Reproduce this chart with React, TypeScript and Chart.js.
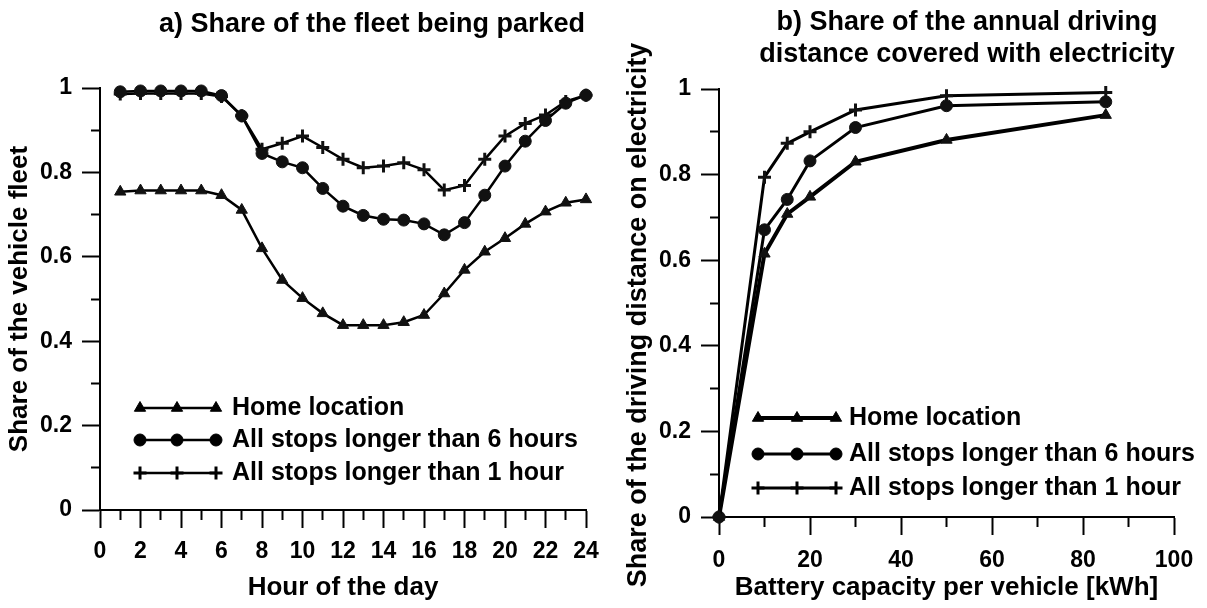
import React, { useEffect, useRef } from 'react';
import { Chart, registerables } from 'chart.js';
import { drawPoint } from 'chart.js/helpers';

Chart.register(...registerables);

const FONT = '"Liberation Sans", Arial, Helvetica, sans-serif';

// ---------- Panel a) data ----------
const hours = [1, 2, 3, 4, 5, 6, 7, 8, 9, 10, 11, 12, 13, 14, 15, 16, 17, 18, 19, 20, 21, 22, 23, 24];
const homeShare = [0.754, 0.757, 0.757, 0.757, 0.757, 0.746, 0.711, 0.62, 0.545, 0.502, 0.466, 0.438, 0.438, 0.438, 0.445, 0.462, 0.513, 0.569, 0.612, 0.644, 0.678, 0.707, 0.728, 0.736];
const stops6hShare = [0.991, 0.993, 0.993, 0.993, 0.993, 0.982, 0.934, 0.845, 0.825, 0.811, 0.762, 0.72, 0.698, 0.689, 0.687, 0.678, 0.652, 0.681, 0.746, 0.815, 0.874, 0.923, 0.964, 0.983];
const stops1hShare = [0.986, 0.987, 0.987, 0.987, 0.987, 0.98, 0.934, 0.855, 0.869, 0.886, 0.859, 0.831, 0.811, 0.815, 0.823, 0.806, 0.758, 0.769, 0.831, 0.886, 0.916, 0.936, 0.968, 0.983];

// ---------- Panel b) data ----------
const capacities = [0, 10, 15, 20, 30, 50, 85];
const homeElec = [0, 0.615, 0.708, 0.748, 0.83, 0.881, 0.939];
const stops6hElec = [0, 0.671, 0.742, 0.832, 0.91, 0.961, 0.97];
const stops1hElec = [0, 0.794, 0.873, 0.9, 0.951, 0.984, 0.992];

// ---------- Texts ----------
const seriesLabels = ['Home location', 'All stops longer than 6 hours', 'All stops longer than 1 hour'];
const titleA = ['a) Share of the fleet being parked'];
const titleB = ['b) Share of the annual driving', 'distance covered with electricity'];
const xTitleA = 'Hour of the day';
const yTitleA = 'Share of the vehicle fleet';
const xTitleB = 'Battery capacity per vehicle [kWh]';
const yTitleB = 'Share of the driving distance on electricity';

const toXY = (xs: number[], ys: number[]) => xs.map((x, i) => ({ x, y: ys[i] }));

const panelTitlePlugin = {
  id: 'panelTitle',
  afterDraw(chart: any, _args: any, opts: any) {
    const ctx = chart.ctx;
    ctx.save();
    ctx.fillStyle = '#000';
    ctx.font = `bold ${opts.size}px ${FONT}`;
    ctx.textAlign = 'center';
    ctx.textBaseline = 'alphabetic';
    (opts.lines as string[]).forEach((line, i) => ctx.fillText(line, opts.x, opts.y + i * opts.gap));
    // vertical axis title
    const yt = opts.yTitle;
    if (yt) {
      ctx.font = `bold ${yt.size}px ${FONT}`;
      ctx.textBaseline = 'middle';
      ctx.translate(yt.x, yt.y);
      ctx.rotate(-Math.PI / 2);
      ctx.fillText(yt.text, 0, 0);
    }
    ctx.restore();
  },
};

const lineLegendPlugin = {
  id: 'lineLegend',
  afterDatasetsDraw(chart: any, _args: any, opts: any) {
    const ctx = chart.ctx;
    chart.data.datasets.forEach((ds: any, i: number) => {
      const y = opts.rows[i];
      const mk: number[] = opts.markers;
      ctx.save();
      ctx.strokeStyle = '#000';
      ctx.fillStyle = '#000';
      ctx.lineWidth = ds.borderWidth;
      ctx.beginPath();
      ctx.moveTo(mk[0], y);
      ctx.lineTo(mk[mk.length - 1], y);
      ctx.stroke();
      ctx.lineWidth = ds.pointBorderWidth;
      mk.forEach((mx) =>
        drawPoint(ctx, { pointStyle: ds.pointStyle, radius: ds.pointRadius, borderWidth: ds.pointBorderWidth, rotation: 0 } as any, mx, y)
      );
      ctx.font = `bold ${opts.size}px ${FONT}`;
      ctx.textAlign = 'left';
      ctx.textBaseline = 'middle';
      ctx.fillText(ds.label, opts.textX, y);
      ctx.restore();
    });
  },
};

Chart.register(panelTitlePlugin as any, lineLegendPlugin as any);

const tickFont = { family: FONT, size: 23, weight: 'bold' as const };

function makeDatasets(xs: number[], series: number[][], widths: number[]) {
  const styles = ['triangle', 'circle', 'cross'];
  const radii = [6.5, 6, 6.5];
  const pbw = [1, 1, 3];
  return series.map((ys, i) => ({
    label: seriesLabels[i],
    data: toXY(xs, ys),
    borderColor: '#000',
    backgroundColor: '#000',
    borderWidth: widths[i],
    pointStyle: styles[i],
    pointRadius: radii[i],
    pointBorderWidth: pbw[i],
    pointBackgroundColor: '#111',
    pointBorderColor: '#111',
    tension: 0,
    clip: false as any,
  }));
}

function yAxis(width: number) {
  return {
    type: 'linear' as const,
    min: 0,
    max: 1,
    border: { display: true, color: '#000', width: 2 },
    grid: {
      display: true,
      drawOnChartArea: false,
      drawTicks: true,
      tickLength: 18,
      tickColor: '#000',
      tickWidth: 2,
      tickBorderDash: (c: any) => (Math.round(c.tick.value * 10) % 2 === 0 ? [] : [0, 9, 9, 100]),
    },
    ticks: {
      stepSize: 0.1,
      padding: 10,
      color: '#000',
      font: tickFont,
      callback: (v: any) => (Math.round(v * 10) % 2 === 0 ? String(Math.round(v * 10) / 10) : ''),
    },
    title: { display: false },
    afterFit: (s: any) => {
      s.width = width;
      s.paddingTop = 0;
      s.paddingBottom = 0;
    },
  };
}

function xAxis(title: string, max: number, step: number, major: number, tickPad: number, height: number) {
  return {
    type: 'linear' as const,
    min: 0,
    max,
    border: { display: true, color: '#000', width: 2 },
    grid: {
      display: true,
      drawOnChartArea: false,
      drawTicks: true,
      tickLength: 18,
      tickColor: '#000',
      tickWidth: 2,
      tickBorderDash: (c: any) => (Math.round(c.tick.value) % major === 0 ? [] : [9, 100]),
    },
    ticks: {
      stepSize: step,
      padding: tickPad,
      autoSkip: false,
      maxRotation: 0,
      color: '#000',
      font: tickFont,
      callback: (v: any) => (Math.round(v) % major === 0 ? String(v) : ''),
    },
    title: {
      display: true,
      text: title,
      color: '#000',
      font: { family: FONT, size: 26, weight: 'bold' as const },
      padding: { top: 0, bottom: 5 },
    },
    afterFit: (s: any) => {
      s.height = height;
      s.paddingLeft = 0;
      s.paddingRight = 0;
    },
  };
}

function configA(): any {
  return {
    type: 'line',
    data: { datasets: makeDatasets(hours, [homeShare, stops6hShare, stops1hShare], [2.5, 2.5, 2.5]) },
    options: {
      animation: false,
      responsive: false,
      devicePixelRatio: 1,
      layout: { padding: { left: 0, right: 34, top: 88, bottom: 0 } },
      scales: {
        x: xAxis(xTitleA, 24, 1, 2, 10, 98),
        y: yAxis(100),
      },
      plugins: {
        legend: { display: false },
        tooltip: { enabled: false },
        panelTitle: {
          lines: titleA, x: 372, y: 32, gap: 32, size: 27,
          yTitle: { text: yTitleA, x: 19.5, y: 299, size: 26 },
        },
        lineLegend: { rows: [408, 440, 473], markers: [140, 177, 216], textX: 232, size: 25 },
      },
    },
  };
}

function configB(): any {
  return {
    type: 'line',
    data: { datasets: makeDatasets(capacities, [homeElec, stops6hElec, stops1hElec], [4, 3, 3]) },
    options: {
      animation: false,
      responsive: false,
      devicePixelRatio: 1,
      layout: { padding: { left: 0, right: 33, top: 89, bottom: 0 } },
      scales: {
        x: xAxis(xTitleB, 100, 10, 20, 12, 91),
        y: yAxis(99),
      },
      plugins: {
        legend: { display: false },
        tooltip: { enabled: false },
        panelTitle: {
          lines: titleB, x: 347, y: 30, gap: 32, size: 27,
          yTitle: { text: yTitleB, x: 18.5, y: 315, size: 27 },
        },
        lineLegend: { rows: [418, 454, 488], markers: [138, 177, 216], textX: 229, size: 25 },
      },
    },
  };
}

function Panel({ make, left, width }: { make: () => any; left: number; width: number }) {
  const ref = useRef<HTMLCanvasElement | null>(null);
  useEffect(() => {
    if (!ref.current) return;
    const chart = new Chart(ref.current, make());
    return () => chart.destroy();
  }, []);
  return (
    <canvas
      ref={ref}
      width={width}
      height={608}
      style={{ position: 'absolute', left, top: 0, width, height: 608, display: 'block' }}
    />
  );
}

export default function App() {
  return (
    <div style={{ position: 'absolute', left: 0, top: 0, width: 1207, height: 608, background: '#fff', overflow: 'hidden' }}>
      <Panel make={configA} left={0} width={620} />
      <Panel make={configB} left={620} width={587} />
    </div>
  );
}
